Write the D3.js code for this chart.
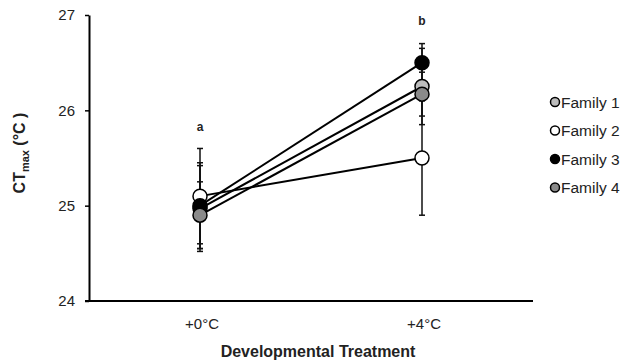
<!DOCTYPE html>
<html>
<head>
<meta charset="utf-8">
<script src="https://cdn.jsdelivr.net/npm/d3@7"></script>
<style>
  body { margin: 0; background: #fff; }
  text { font-family: "Liberation Sans", Arial, sans-serif; }
</style>
</head>
<body>
<div id="chart"></div>
<script>
// treatments on the x axis
let treatments = ["+0°C", "+4°C"];
let families = ["Family 1", "Family 2", "Family 3", "Family 4"];
let familyFill = ["#bdbdbd", "#ffffff", "#000000", "#8a8a8a"];
// mean CTmax per family, per treatment
let means = [
    [24.97, 26.25],
    [25.1, 25.5],
    [25.0, 26.5],
    [24.9, 26.17]
];
// error bar half-widths
let errors = [
    [0.45, 0.4],
    [0.5, 0.6],
    [0.45, 0.2],
    [0.35, 0.23]
];
let groupLetters = ["a", "b"];
let letterLevels = [25.78, 26.9];
let yTicks = [24, 25, 26, 27];

let width = 625, height = 364;
let margin = {top: 15, right: 92, bottom: 63, left: 89};

let svg = d3.select("#chart").append("svg")
    .attr("width", width)
    .attr("height", height);

let x = d3.scalePoint()
    .domain(treatments)
    .range([margin.left, width - margin.right])
    .padding(0.5);

let y = d3.scaleLinear()
    .domain([24, 27])
    .range([height - margin.bottom, margin.top]);

//Y axis
let yAxis = svg.append("g")
    .attr("transform", "translate(" + margin.left + ",0)")
    .call(d3.axisLeft(y).tickValues(yTicks).tickSize(4).tickSizeOuter(0).tickFormat(d3.format("d")));
yAxis.select(".domain").attr("stroke-width", 2);
yAxis.selectAll(".tick line").attr("stroke-width", 1.5);
yAxis.selectAll(".tick text")
    .attr("x", -14)
    .style("font-size", "15px")
    .attr("fill", "#222");

//X axis line
svg.append("line")
    .attr("x1", margin.left - 4)
    .attr("x2", width - margin.right)
    .attr("y1", y(24))
    .attr("y2", y(24))
    .attr("stroke", "black")
    .attr("stroke-width", 2);

svg.selectAll(".xlabel")
    .data(treatments)
    .enter()
    .append("text")
    .attr("class", "xlabel")
    .attr("x", d => x(d) + 2)
    .attr("y", y(24) + 28)
    .attr("text-anchor", "middle")
    .style("font-size", "15px")
    .attr("fill", "#222")
    .text(d => d);

//axis titles
svg.append("text")
    .attr("x", 318)
    .attr("y", 357)
    .attr("text-anchor", "middle")
    .style("font-size", "16px")
    .style("font-weight", "bold")
    .attr("fill", "#222")
    .text("Developmental Treatment");

let yTitle = svg.append("text")
    .attr("transform", "translate(25,153) rotate(-90)")
    .attr("text-anchor", "middle")
    .style("font-size", "16px")
    .style("font-weight", "bold")
    .attr("fill", "#222");
yTitle.append("tspan").text("CT");
yTitle.append("tspan").attr("dy", 4).style("font-size", "11px").text("max");
yTitle.append("tspan").attr("dy", -4).text(" (°C )");

//error bars
families.forEach(function(f, i) {
    treatments.forEach(function(t, j) {
        let lo = y(means[i][j] - errors[i][j]);
        let hi = y(means[i][j] + errors[i][j]);
        let g = svg.append("g").attr("stroke", "#111").attr("stroke-width", 1.5);
        g.append("line").attr("x1", x(t)).attr("x2", x(t)).attr("y1", lo).attr("y2", hi);
        g.append("line").attr("x1", x(t) - 3).attr("x2", x(t) + 3).attr("y1", lo).attr("y2", lo);
        g.append("line").attr("x1", x(t) - 3).attr("x2", x(t) + 3).attr("y1", hi).attr("y2", hi);
    });
});

//lines
let line = d3.line()
    .x((d, j) => x(treatments[j]))
    .y(d => y(d));

svg.selectAll(".series")
    .data(means)
    .enter()
    .append("path")
    .attr("class", "series")
    .attr("d", line)
    .attr("fill", "none")
    .attr("stroke", "black")
    .attr("stroke-width", 2);

//points
families.forEach(function(f, i) {
    svg.selectAll(".pt" + i)
        .data(means[i])
        .enter()
        .append("circle")
        .attr("cx", (d, j) => x(treatments[j]))
        .attr("cy", d => y(d))
        .attr("r", 7)
        .attr("fill", familyFill[i])
        .attr("stroke", "black")
        .attr("stroke-width", 1.5);
});

//significance letters
svg.selectAll(".letter")
    .data(groupLetters)
    .enter()
    .append("text")
    .attr("x", (d, j) => x(treatments[j]))
    .attr("y", (d, j) => y(letterLevels[j]))
    .attr("text-anchor", "middle")
    .style("font-size", "12px")
    .style("font-weight", "bold")
    .attr("fill", "#222")
    .text(d => d);

//legend
let legend = svg.selectAll(".legend")
    .data(families)
    .enter()
    .append("g")
    .attr("class", "legend")
    .attr("transform", (d, i) => "translate(555," + (102 + i * 28.5) + ")");
legend.append("circle")
    .attr("r", 4.5)
    .attr("fill", (d, i) => familyFill[i])
    .attr("stroke", "black")
    .attr("stroke-width", 1.5);
legend.append("text")
    .attr("x", 6)
    .attr("y", 5.5)
    .style("font-size", "15.5px")
    .attr("fill", "#222")
    .text(d => d);
</script>
</body>
</html>
